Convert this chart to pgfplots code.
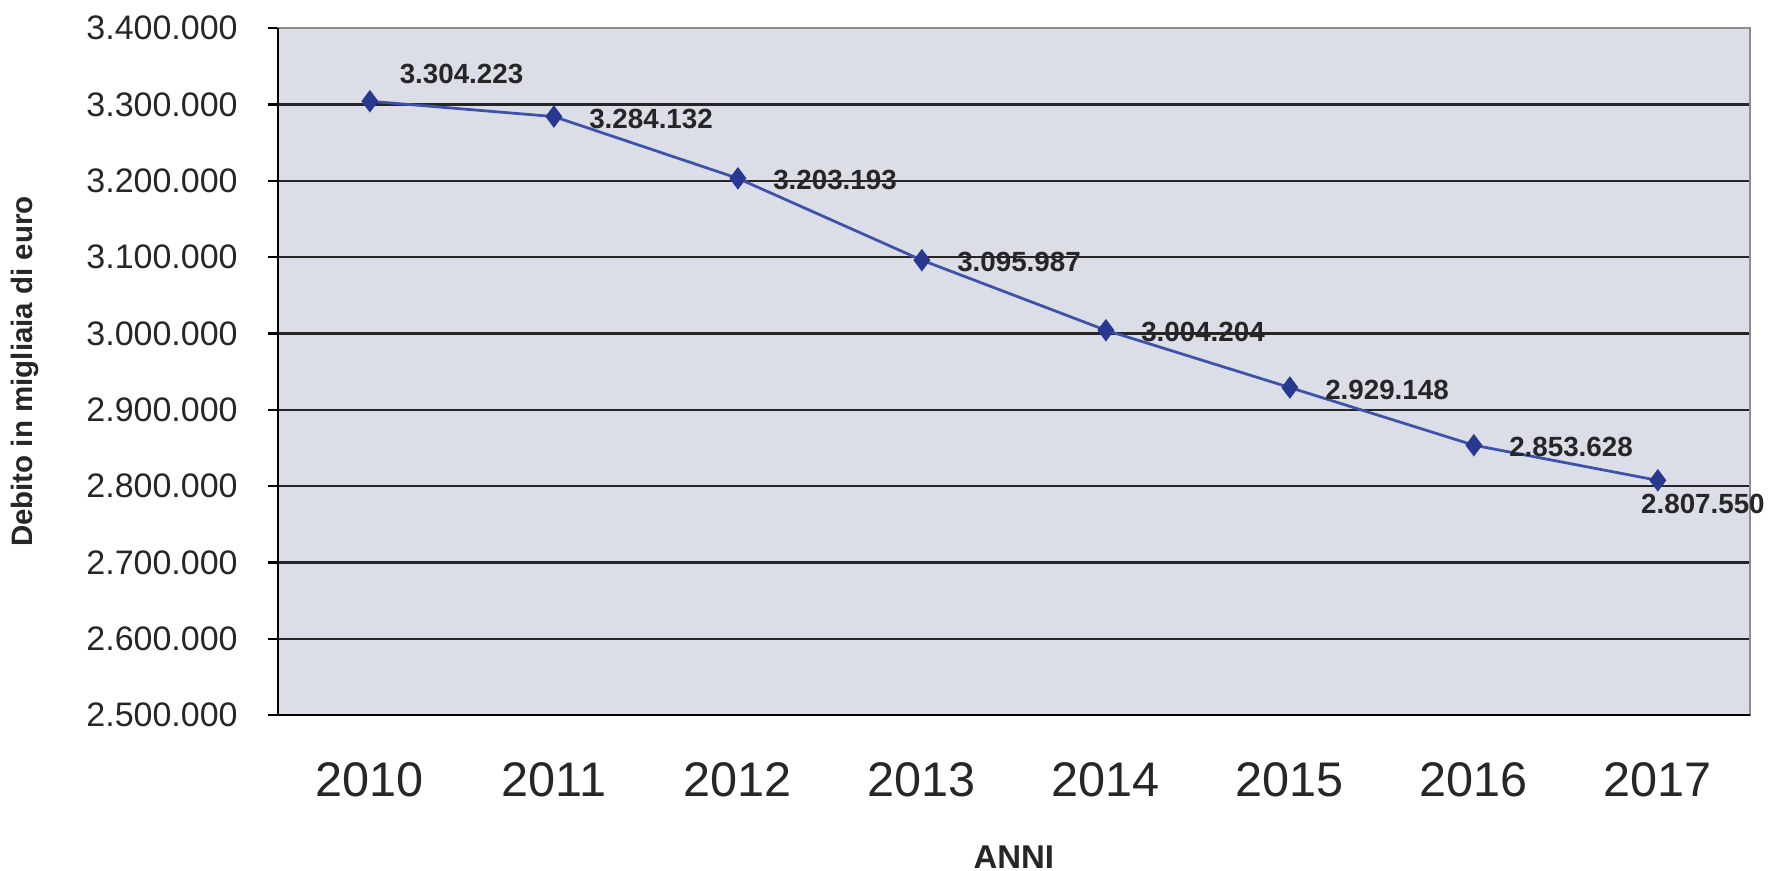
\documentclass[border=0pt]{standalone}
\usepackage{fontspec}
\setmainfont{Liberation Sans}
\usepackage{pgfplots}
\pgfplotsset{compat=1.18}
\definecolor{bgcol}{RGB}{219,222,231}
\definecolor{linecol}{RGB}{62,82,170}
\definecolor{markcol}{RGB}{40,56,145}
\begin{document}
\begin{tikzpicture}
\useasboundingbox (-80.1pt,-44.9pt) rectangle (430.3pt,206.1pt);
\begin{axis}[
  scale only axis,
  width=424.2pt, height=198pt,
  xmin=-0.5, xmax=7.5,
  ymin=2500000, ymax=3400000,
  scaled y ticks=false,
  axis background/.style={fill=bgcol},
  axis line style={draw=black!45, line width=0.6pt},
  xtick={0,...,7},
  xticklabels={2010,2011,2012,2013,2014,2015,2016,2017},
  x tick style={draw=none},
  extra x ticks={-0.5,0.5,...,7.5},
  extra x tick labels={},
  extra x tick style={major tick length=3.8pt, tick style={draw=black, line width=0.6pt}},
  xticklabel style={font=\fontsize{14}{16}\selectfont, text=black!85, anchor=center, yshift=-15.8pt},
  ytick={2500000,2600000,2700000,2800000,2900000,3000000,3100000,3200000,3300000,3400000},
  yticklabels={2.500.000,2.600.000,2.700.000,2.800.000,2.900.000,3.000.000,3.100.000,3.200.000,3.300.000,3.400.000},
  yticklabel style={font=\fontsize{9.8}{12}\selectfont, text=black!85, anchor=east, inner sep=0pt, xshift=-8.5pt},
  y tick style={draw=black, line width=0.6pt},
  major tick length=2.9pt,
  tick align=outside,
  tick pos=left,
  ymajorgrids,
  grid style={draw=black!85, line width=0.6pt},
  xlabel={ANNI},
  xlabel style={font=\bfseries\fontsize{9.5}{11}\selectfont, text=black!85, at={(axis description cs:0.5,-0.2071)}, anchor=center},
  ylabel={Debito in migliaia di euro},
  ylabel style={font=\bfseries\fontsize{8.5}{10}\selectfont, text=black!85, at={(axis description cs:-0.1719,0.5)}, anchor=center},
  clip=false,
  nodes near coords style={inner sep=0pt, font=\bfseries\fontsize{8}{10}\selectfont, text=black!85},
]
\addplot[color=linecol, line width=0.8pt, mark=diamond*, mark size=2.6pt,
  mark options={fill=markcol, draw=markcol}]
  coordinates {(0,3304223) (1,3284132) (2,3203193) (3,3095987) (4,3004204) (5,2929148) (6,2853628) (7,2807550)};
% data labels
\addplot[draw=none, mark=none, forget plot, point meta=explicit symbolic, nodes near coords,
  nodes near coords style={anchor=west, xshift=8.4pt, yshift=8pt}]
  coordinates {(0,3304223) [3.304.223]};
\addplot[draw=none, mark=none, forget plot, point meta=explicit symbolic, nodes near coords,
  nodes near coords style={anchor=west, xshift=10pt, yshift=-0.6pt}]
  coordinates {(1,3284132) [3.284.132] (2,3203193) [3.203.193] (3,3095987) [3.095.987]
               (4,3004204) [3.004.204] (5,2929148) [2.929.148] (6,2853628) [2.853.628]};
\addplot[draw=none, mark=none, forget plot, point meta=explicit symbolic, nodes near coords,
  nodes near coords style={anchor=center, xshift=13pt, yshift=-6.8pt}]
  coordinates {(7,2807550) [2.807.550]};
\draw[black, line width=0.7pt] (rel axis cs:0,1) -- (rel axis cs:0,0) -- (rel axis cs:1,0);
\end{axis}
\end{tikzpicture}
\end{document}
